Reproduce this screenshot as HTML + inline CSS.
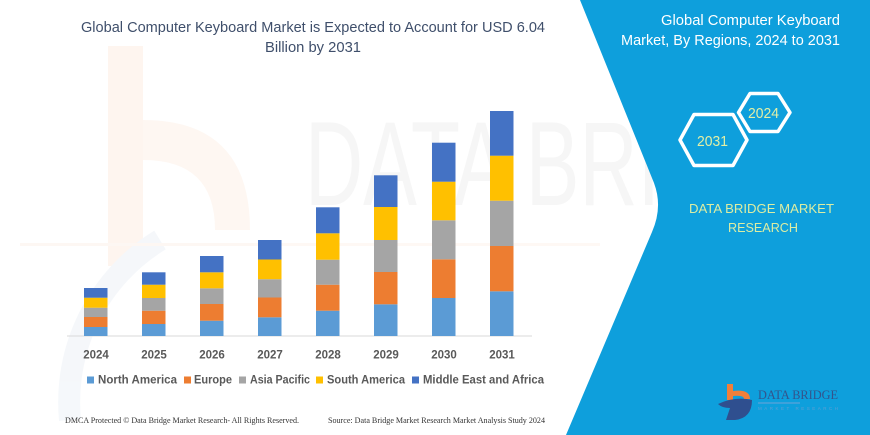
<!DOCTYPE html>
<html>
<head>
<meta charset="utf-8">
<style>
  html,body{margin:0;padding:0;background:#fff;}
  svg{display:block;}
</style>
</head>
<body>
<svg width="870" height="435" viewBox="0 0 870 435" xmlns="http://www.w3.org/2000/svg">
  <rect x="0" y="0" width="870" height="435" fill="#ffffff"/>

  <!-- faint watermarks -->
  <g opacity="0.45">
    <rect x="108" y="46" width="35" height="220" fill="#fde9dc"/>
    <path d="M143,120 Q250,120 250,230 L215,230 Q215,160 143,160 Z" fill="#fdeee4"/>
    <path d="M70,420 A190,190 0 0 1 160,240" fill="none" stroke="#e9eff6" stroke-width="22"/>
    <rect x="20" y="243" width="580" height="3" fill="#fcefe6"/>
  </g>
  <g font-family="Liberation Sans, sans-serif" font-size="120" fill="#f6f6f6">
    <text x="305" y="205" textLength="355" lengthAdjust="spacingAndGlyphs">DATA BRI</text>
  </g>

  <!-- blue panel -->
  <path d="M580,0 L654,183 Q663,207 652,232 L566,435 L870,435 L870,0 Z" fill="#0e9fdc"/>

  <!-- title -->
  <g font-family="Liberation Sans, sans-serif" font-size="15" fill="#3f4f6b">
    <text x="81" y="32" textLength="464" lengthAdjust="spacingAndGlyphs">Global Computer Keyboard Market is Expected to Account for USD 6.04</text>
    <text x="265" y="52" textLength="96" lengthAdjust="spacingAndGlyphs">Billion by 2031</text>
  </g>

  <!-- right titles -->
  <g font-family="Liberation Sans, sans-serif" font-size="15" fill="#ffffff">
    <text x="661" y="25" textLength="179" lengthAdjust="spacingAndGlyphs">Global Computer Keyboard</text>
    <text x="621" y="45" textLength="219" lengthAdjust="spacingAndGlyphs">Market, By Regions, 2024 to 2031</text>
  </g>

  <!-- hexagons -->
  <g fill="none" stroke="#ffffff" stroke-width="3.5" stroke-linejoin="round">
    <path d="M680,140 L694,114.5 L733,114.5 L747,140 L733,165.5 L694,165.5 Z"/>
    <path d="M738.5,112.5 L750,93.5 L778,93.5 L790,112.5 L778,131.5 L750,131.5 Z"/>
  </g>
  <g font-family="Liberation Sans, sans-serif" font-size="15" fill="#e3efa5">
    <text x="697" y="146" textLength="31" lengthAdjust="spacingAndGlyphs">2031</text>
    <text x="748" y="118" textLength="31" lengthAdjust="spacingAndGlyphs">2024</text>
  </g>
  <g font-family="Liberation Sans, sans-serif" font-size="13" fill="#dceda3">
    <text x="689" y="213" textLength="145" lengthAdjust="spacingAndGlyphs">DATA BRIDGE MARKET</text>
    <text x="728" y="232" textLength="70" lengthAdjust="spacingAndGlyphs">RESEARCH</text>
  </g>

  <!-- axis -->
  <line x1="67" y1="336" x2="532" y2="336" stroke="#d9d9d9" stroke-width="1"/>

  <!-- bars -->
  <g>
    <!-- 2024 -->
    <rect x="84" y="327" width="23.5" height="9" fill="#5b9bd5"/>
    <rect x="84" y="317" width="23.5" height="10" fill="#ed7d31"/>
    <rect x="84" y="307.7" width="23.5" height="9.3" fill="#a5a5a5"/>
    <rect x="84" y="297.7" width="23.5" height="10" fill="#ffc000"/>
    <rect x="84" y="288" width="23.5" height="9.7" fill="#4472c4"/>
    <!-- 2025 -->
    <rect x="142" y="324" width="23.5" height="12" fill="#5b9bd5"/>
    <rect x="142" y="310.7" width="23.5" height="13.3" fill="#ed7d31"/>
    <rect x="142" y="298" width="23.5" height="12.7" fill="#a5a5a5"/>
    <rect x="142" y="284.7" width="23.5" height="13.3" fill="#ffc000"/>
    <rect x="142" y="272.3" width="23.5" height="12.4" fill="#4472c4"/>
    <!-- 2026 -->
    <rect x="200" y="320.7" width="23.5" height="15.3" fill="#5b9bd5"/>
    <rect x="200" y="304" width="23.5" height="16.7" fill="#ed7d31"/>
    <rect x="200" y="288.3" width="23.5" height="15.7" fill="#a5a5a5"/>
    <rect x="200" y="272.3" width="23.5" height="16" fill="#ffc000"/>
    <rect x="200" y="256" width="23.5" height="16.3" fill="#4472c4"/>
    <!-- 2027 -->
    <rect x="258" y="317.3" width="23.5" height="18.7" fill="#5b9bd5"/>
    <rect x="258" y="297.5" width="23.5" height="19.8" fill="#ed7d31"/>
    <rect x="258" y="279.2" width="23.5" height="18.3" fill="#a5a5a5"/>
    <rect x="258" y="259.5" width="23.5" height="19.7" fill="#ffc000"/>
    <rect x="258" y="240" width="23.5" height="19.5" fill="#4472c4"/>
    <!-- 2028 -->
    <rect x="316" y="310.7" width="23.5" height="25.3" fill="#5b9bd5"/>
    <rect x="316" y="284.7" width="23.5" height="26" fill="#ed7d31"/>
    <rect x="316" y="259.7" width="23.5" height="25" fill="#a5a5a5"/>
    <rect x="316" y="233.3" width="23.5" height="26.4" fill="#ffc000"/>
    <rect x="316" y="207.3" width="23.5" height="26" fill="#4472c4"/>
    <!-- 2029 -->
    <rect x="374" y="304.3" width="23.5" height="31.7" fill="#5b9bd5"/>
    <rect x="374" y="272" width="23.5" height="32.3" fill="#ed7d31"/>
    <rect x="374" y="240" width="23.5" height="32" fill="#a5a5a5"/>
    <rect x="374" y="207" width="23.5" height="33" fill="#ffc000"/>
    <rect x="374" y="175.3" width="23.5" height="31.7" fill="#4472c4"/>
    <!-- 2030 -->
    <rect x="432" y="298" width="23.5" height="38" fill="#5b9bd5"/>
    <rect x="432" y="259.3" width="23.5" height="38.7" fill="#ed7d31"/>
    <rect x="432" y="220.3" width="23.5" height="39" fill="#a5a5a5"/>
    <rect x="432" y="181.7" width="23.5" height="38.6" fill="#ffc000"/>
    <rect x="432" y="142.7" width="23.5" height="39" fill="#4472c4"/>
    <!-- 2031 -->
    <rect x="490" y="291.3" width="23.5" height="44.7" fill="#5b9bd5"/>
    <rect x="490" y="246" width="23.5" height="45.3" fill="#ed7d31"/>
    <rect x="490" y="200.7" width="23.5" height="45.3" fill="#a5a5a5"/>
    <rect x="490" y="155.7" width="23.5" height="45" fill="#ffc000"/>
    <rect x="490" y="111" width="23.5" height="44.7" fill="#4472c4"/>
  </g>

  <!-- year labels -->
  <g font-family="Liberation Sans, sans-serif" font-size="11.5" font-weight="bold" fill="#595959" text-anchor="middle">
    <text x="96" y="358.5">2024</text>
    <text x="154" y="358.5">2025</text>
    <text x="212" y="358.5">2026</text>
    <text x="270" y="358.5">2027</text>
    <text x="328" y="358.5">2028</text>
    <text x="386" y="358.5">2029</text>
    <text x="444" y="358.5">2030</text>
    <text x="502" y="358.5">2031</text>
  </g>

  <!-- legend -->
  <g>
    <rect x="87" y="376.5" width="7" height="7" fill="#5b9bd5"/>
    <rect x="184" y="376.5" width="7" height="7" fill="#ed7d31"/>
    <rect x="239" y="376.5" width="7" height="7" fill="#a5a5a5"/>
    <rect x="316" y="376.5" width="7" height="7" fill="#ffc000"/>
    <rect x="412" y="376.5" width="7" height="7" fill="#4472c4"/>
  </g>
  <g font-family="Liberation Sans, sans-serif" font-size="11.5" font-weight="bold" fill="#595959">
    <text x="98" y="383.7" textLength="79" lengthAdjust="spacingAndGlyphs">North America</text>
    <text x="194" y="383.7" textLength="38" lengthAdjust="spacingAndGlyphs">Europe</text>
    <text x="250" y="383.7" textLength="60" lengthAdjust="spacingAndGlyphs">Asia Pacific</text>
    <text x="327" y="383.7" textLength="78" lengthAdjust="spacingAndGlyphs">South America</text>
    <text x="423" y="383.7" textLength="121" lengthAdjust="spacingAndGlyphs">Middle East and Africa</text>
  </g>

  <!-- footer -->
  <g font-family="Liberation Serif, serif" font-size="8.5" fill="#333333">
    <text x="65" y="423" textLength="234" lengthAdjust="spacingAndGlyphs">DMCA Protected © Data Bridge Market Research-  All Rights Reserved.</text>
    <text x="328" y="423" textLength="217" lengthAdjust="spacingAndGlyphs">Source: Data Bridge Market Research Market Analysis Study 2024</text>
  </g>

  <!-- logo -->
  <g>
    <rect x="727" y="384" width="6" height="16" fill="#f07f3a"/>
    <path d="M733,391 Q750,389 750,399 L744,399 Q744,395 733,396 Z" fill="#f07f3a"/>
    <path d="M718,404 Q735,396 752,400 Q752,418 735,420 L726,420 L730,408 Q722,408 718,404 Z" fill="#2f4f8f"/>
    <text x="758" y="399" font-family="Liberation Serif, serif" font-size="13" fill="#34548c" textLength="80" lengthAdjust="spacingAndGlyphs">DATA BRIDGE</text>
    <rect x="758" y="402.5" width="42" height="1" fill="#6fa3d8"/>
    <text x="758" y="410" font-family="Liberation Sans, sans-serif" font-size="4.5" fill="#5f9fd3" textLength="80" lengthAdjust="spacing">MARKET RESEARCH</text>
  </g>
</svg>
</body>
</html>
